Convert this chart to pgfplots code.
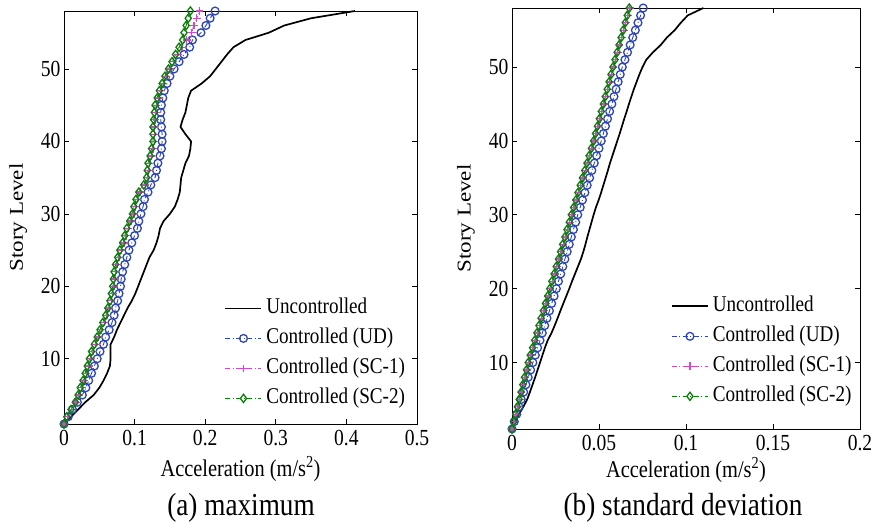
\documentclass[border=0pt]{standalone}
\usepackage{pgfplots}
\pgfplotsset{compat=1.18}
\usepackage{pgfplotstable}
\usepackage{graphicx}
\usepackage{fontspec}
\setmainfont{Liberation Serif}

\newcommand{\sq}[1]{\scalebox{0.85}[1]{#1}}
\newcommand{\sqv}[1]{\scalebox{1}[0.85]{#1}}

\definecolor{cUD}{RGB}{45,70,180}
\definecolor{cSC1}{RGB}{205,75,195}
\definecolor{cSC2}{RGB}{10,128,10}

\pgfplotstableread{
L unc ud sc1 sc2
1 0.000 0.000 0.000 0.000
2 0.010 0.006 0.005 0.004
3 0.020 0.012 0.011 0.010
4 0.030 0.019 0.017 0.016
5 0.042 0.026 0.022 0.020
6 0.050 0.031 0.025 0.023
7 0.056 0.035 0.029 0.027
8 0.061 0.039 0.032 0.030
9 0.065 0.043 0.035 0.033
10 0.066 0.047 0.038 0.036
11 0.066 0.051 0.041 0.039
12 0.066 0.056 0.045 0.043
13 0.071 0.059 0.049 0.047
14 0.075 0.064 0.053 0.051
15 0.080 0.068 0.057 0.055
16 0.085 0.071 0.061 0.059
17 0.090 0.073 0.064 0.062
18 0.096 0.076 0.067 0.065
19 0.101 0.078 0.069 0.067
20 0.105 0.080 0.071 0.069
21 0.109 0.081 0.072 0.070
22 0.113 0.083 0.073 0.071
23 0.117 0.086 0.075 0.073
24 0.121 0.089 0.078 0.076
25 0.127 0.092 0.081 0.079
26 0.131 0.096 0.085 0.083
27 0.134 0.100 0.088 0.086
28 0.136 0.104 0.091 0.089
29 0.141 0.106 0.095 0.093
30 0.150 0.109 0.099 0.097
31 0.157 0.112 0.101 0.099
32 0.161 0.114 0.104 0.102
33 0.164 0.119 0.108 0.106
34 0.165 0.123 0.115 0.113
35 0.166 0.129 0.119 0.117
36 0.169 0.131 0.120 0.118
37 0.172 0.133 0.121 0.119
38 0.177 0.136 0.124 0.122
39 0.179 0.138 0.126 0.124
40 0.180 0.139 0.128 0.126
41 0.172 0.139 0.128 0.126
42 0.165 0.138 0.128 0.126
43 0.168 0.137 0.129 0.127
44 0.172 0.137 0.130 0.128
45 0.174 0.138 0.131 0.129
46 0.176 0.140 0.134 0.132
47 0.180 0.142 0.137 0.135
48 0.195 0.146 0.141 0.139
49 0.207 0.150 0.145 0.143
50 0.215 0.156 0.150 0.148
51 0.223 0.163 0.155 0.153
52 0.231 0.170 0.161 0.158
53 0.240 0.178 0.167 0.163
54 0.257 0.182 0.174 0.168
55 0.290 0.194 0.181 0.170
56 0.312 0.201 0.184 0.173
57 0.350 0.207 0.188 0.176
58 0.412 0.214 0.192 0.179
}\maxtable

\pgfplotstableread{
L unc ud sc1 sc2
1 0.0000 0.0000 0.0000 0.0000
2 0.0016 0.0013 0.0011 0.0010
3 0.0040 0.0027 0.0023 0.0021
4 0.0065 0.0040 0.0033 0.0031
5 0.0087 0.0053 0.0044 0.0041
6 0.0103 0.0067 0.0055 0.0052
7 0.0118 0.0080 0.0065 0.0062
8 0.0133 0.0093 0.0075 0.0072
9 0.0147 0.0107 0.0086 0.0083
10 0.0161 0.0120 0.0096 0.0093
11 0.0175 0.0134 0.0108 0.0105
12 0.0189 0.0147 0.0121 0.0118
13 0.0205 0.0161 0.0133 0.0130
14 0.0227 0.0174 0.0146 0.0143
15 0.0245 0.0188 0.0158 0.0155
16 0.0262 0.0201 0.0170 0.0167
17 0.0278 0.0215 0.0183 0.0180
18 0.0295 0.0228 0.0195 0.0192
19 0.0312 0.0242 0.0208 0.0205
20 0.0329 0.0255 0.0220 0.0217
21 0.0345 0.0267 0.0232 0.0229
22 0.0362 0.0280 0.0245 0.0242
23 0.0379 0.0292 0.0257 0.0254
24 0.0396 0.0304 0.0270 0.0267
25 0.0410 0.0317 0.0282 0.0279
26 0.0422 0.0329 0.0294 0.0291
27 0.0433 0.0341 0.0307 0.0304
28 0.0445 0.0353 0.0319 0.0316
29 0.0457 0.0366 0.0332 0.0329
30 0.0469 0.0378 0.0344 0.0341
31 0.0482 0.0392 0.0357 0.0354
32 0.0498 0.0405 0.0370 0.0367
33 0.0512 0.0419 0.0382 0.0379
34 0.0525 0.0432 0.0395 0.0392
35 0.0538 0.0446 0.0408 0.0405
36 0.0551 0.0459 0.0421 0.0418
37 0.0563 0.0473 0.0434 0.0431
38 0.0577 0.0486 0.0446 0.0443
39 0.0591 0.0500 0.0459 0.0456
40 0.0605 0.0513 0.0472 0.0469
41 0.0619 0.0525 0.0483 0.0480
42 0.0632 0.0537 0.0494 0.0491
43 0.0645 0.0549 0.0505 0.0502
44 0.0659 0.0561 0.0516 0.0513
45 0.0672 0.0574 0.0528 0.0525
46 0.0686 0.0586 0.0539 0.0536
47 0.0700 0.0598 0.0550 0.0547
48 0.0716 0.0610 0.0561 0.0558
49 0.0732 0.0622 0.0572 0.0569
50 0.0750 0.0634 0.0583 0.0580
51 0.0772 0.0649 0.0595 0.0592
52 0.0810 0.0664 0.0607 0.0604
53 0.0855 0.0679 0.0618 0.0615
54 0.0890 0.0694 0.0630 0.0627
55 0.0935 0.0709 0.0642 0.0639
56 0.0970 0.0724 0.0654 0.0651
57 0.1010 0.0739 0.0665 0.0662
58 0.1100 0.0754 0.0677 0.0674
}\stdtable

\pgfplotsset{
  panel/.style={
    scale only axis,
    ymin=1, ymax=58,
    ytick={10,20,30,40,50},
    yticklabels={\sq{10},\sq{20},\sq{30},\sq{40},\sq{50}},
    scaled ticks=false,
    tick align=inside,
    tick pos=both,
    major tick length=5pt,
    axis line style={line width=0.9pt},
    every tick/.style={black, line width=0.7pt},
    ticklabel style={font=\fontsize{23}{27}\selectfont},
    xticklabel style={yshift=-3pt},
    label style={font=\fontsize{24}{28}\selectfont},
    clip=false,
    legend cell align=left,
    legend image code/.code={\draw[mark repeat=2,mark phase=2,##1] plot coordinates {(0pt,0pt) (18pt,0pt) (36pt,0pt)};},
    legend style={draw=none, fill=none, anchor=north west,
      font=\fontsize{22.5}{26}\selectfont,
      row sep=12pt, column sep=4pt,
      nodes={inner sep=0pt, text height=14pt, text depth=4pt}},
  },
  unc/.style={black, line width=1.7pt, mark=none},
  ud/.style={cUD, line width=0.9pt, dash pattern=on 5pt off 2.5pt on 1pt off 2.5pt,
    mark=o, mark size=3.9pt, mark options={solid, line width=1.3pt}},
  scone/.style={cSC1, line width=0.9pt, dash pattern=on 5pt off 2.5pt on 1pt off 2.5pt,
    mark=+, mark size=3.9pt, mark options={solid, line width=1.3pt}},
  sctwo/.style={cSC2, line width=0.9pt, dash pattern=on 5pt off 2.5pt on 1pt off 2.5pt,
    mark=diamond, mark size=4.1pt, mark options={solid, line width=1.3pt}},
}

\begin{document}
\begin{tikzpicture}
\useasboundingbox (0pt,0pt) rectangle (877pt,527pt);

\begin{axis}[panel,
  at={(64pt,103pt)}, anchor=south west,
  width=353pt, height=413pt,
  xmin=0, xmax=0.5,
  xtick={0,0.1,0.2,0.3,0.4,0.5},
  xticklabels={\sq{0},\sq{0.1},\sq{0.2},\sq{0.3},\sq{0.4},\sq{0.5}},
  xlabel={\sq{Acceleration (m/s\textsuperscript{2})}},
  ylabel={\sqv{\fontsize{23}{27}\selectfont Story Level}},
  xlabel style={at={(axis description cs:0.5,-0.110)}, anchor=center},
  ylabel style={at={(axis description cs:-0.130,0.5)}, anchor=center},
  legend style={at={(axis description cs:0.446,0.307)}},
]
\addplot[unc] table[x=unc, y=L] {\maxtable};
\addplot[ud] table[x=ud, y=L] {\maxtable};
\addplot[scone] table[x=sc1, y=L] {\maxtable};
\addplot[sctwo] table[x=sc2, y=L] {\maxtable};
\legend{\sq{Uncontrolled}, \sq{Controlled (UD)}, \sq{Controlled (SC-1)}, \sq{Controlled (SC-2)}}
\end{axis}

\begin{axis}[panel,
  at={(512pt,98pt)}, anchor=south west,
  width=348pt, height=421pt,
  xmin=0, xmax=0.2,
  xtick={0,0.05,0.1,0.15,0.2},
  xticklabels={\sq{0},\sq{0.05},\sq{0.1},\sq{0.15},\sq{0.2}},
  xlabel={\sq{Acceleration (m/s\textsuperscript{2})}},
  ylabel={\sqv{\fontsize{23}{27}\selectfont Story Level}},
  xlabel style={at={(axis description cs:0.5,-0.097)}, anchor=center},
  ylabel style={at={(axis description cs:-0.132,0.5)}, anchor=center},
  legend style={at={(axis description cs:0.448,0.318)}},
]
\addplot[unc] table[x=unc, y=L] {\stdtable};
\addplot[ud] table[x=ud, y=L] {\stdtable};
\addplot[scone] table[x=sc1, y=L] {\stdtable};
\addplot[sctwo] table[x=sc2, y=L] {\stdtable};
\legend{\sq{Uncontrolled}, \sq{Controlled (UD)}, \sq{Controlled (SC-1)}, \sq{Controlled (SC-2)}}
\end{axis}

\node[font=\fontsize{32}{36}\selectfont] at (241pt,19pt) {\sq{(a) maximum}};
\node[font=\fontsize{32}{36}\selectfont] at (683pt,19pt) {\sq{(b) standard deviation}};
\end{tikzpicture}
\end{document}
